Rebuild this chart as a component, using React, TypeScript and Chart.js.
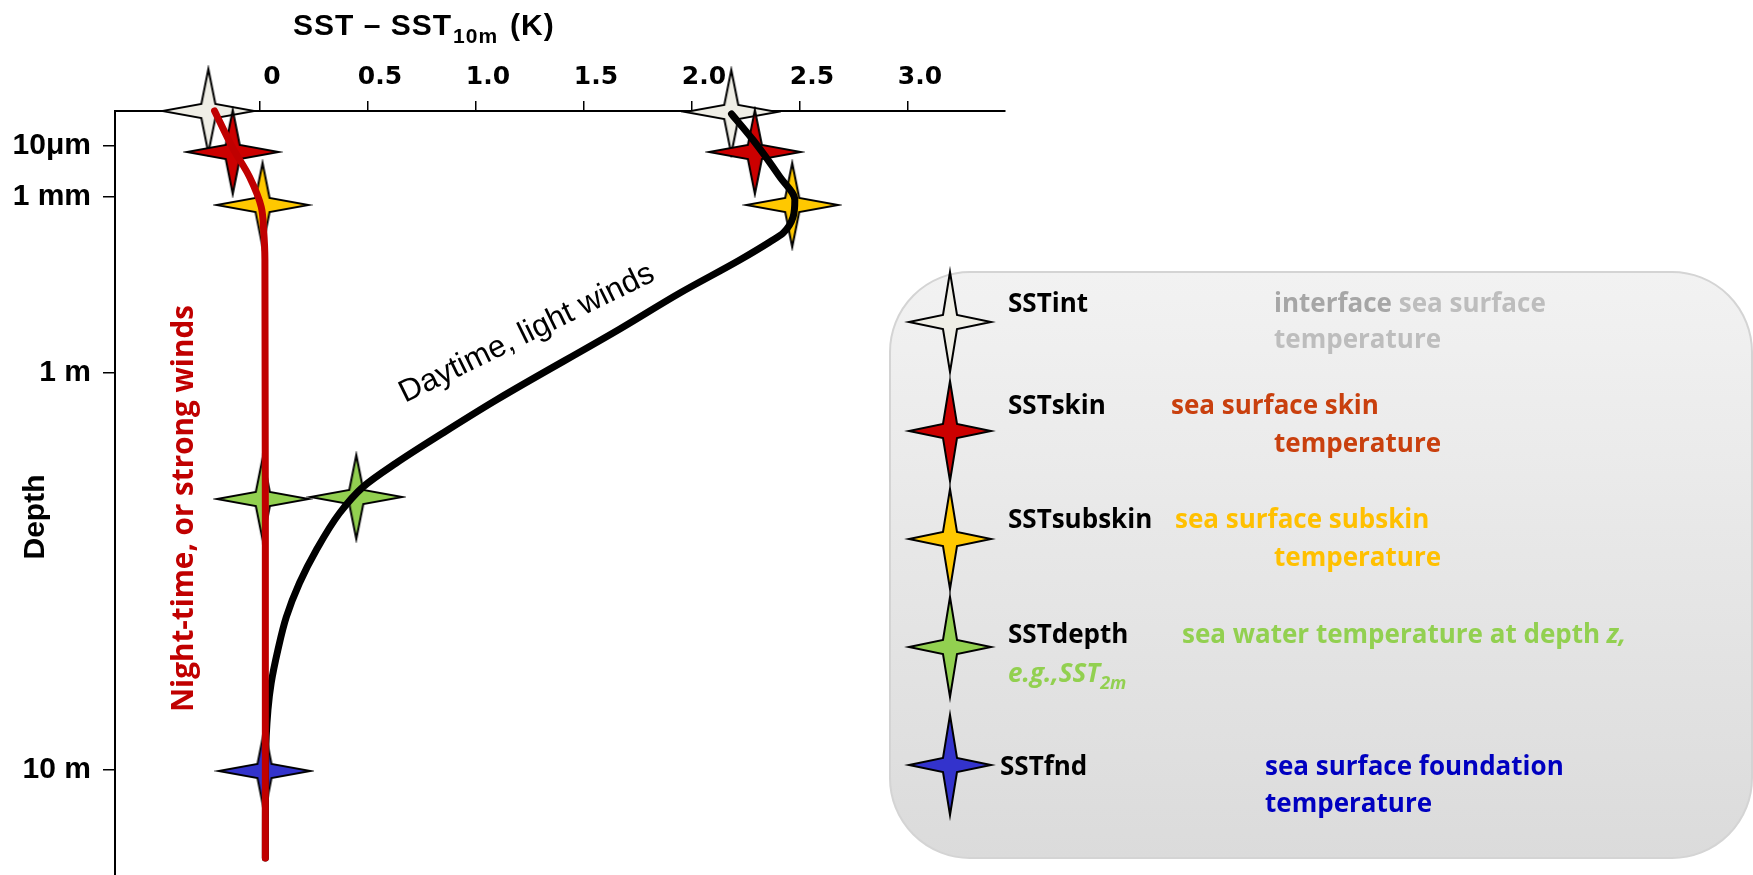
import React, { useEffect, useRef } from "react";
import { Chart, registerables } from "chart.js";

Chart.register(...registerables);

// ---------------- data ----------------
// top axis: SST − SST10m (K)
const X_TICKS = [0, 0.5, 1.0, 1.5, 2.0, 2.5, 3.0];
const X_MIN = -0.671;
const X_MAX = 3.449;

// depth axis: schematic (non-uniform) depth coordinate, 0 = sea surface
const DEPTH_TICK_POS = [35, 86, 262, 659];
const DEPTH_TICK_LABELS = ["10\u03bcm", "1 mm", "1 m", "10 m"];
const DEPTH_MAX = 764;

// "Daytime, light winds" profile
const DAY_DEPTH = [3, 29, 66, 89, 106, 122, 131, 149, 182, 218, 289, 322, 352, 376, 402, 439, 472, 506, 539, 572, 599, 649, 747];
const DAY_DT = [2.183, 2.283, 2.407, 2.476, 2.468, 2.422, 2.36, 2.221, 1.944, 1.666, 1.094, 0.847, 0.631, 0.477, 0.369, 0.261, 0.183, 0.122, 0.083, 0.052, 0.037, 0.026, 0.025];

// "Night-time, or strong winds" profile
const NIGHT_DEPTH = [0, 37, 66, 96, 119, 149, 400, 747];
const NIGHT_DT = [-0.21, -0.126, -0.048, 0.006, 0.017, 0.023, 0.025, 0.025];

// SST definitions (stars)
const STAR_NAMES = ["SSTint", "SSTskin", "SSTsubskin", "SSTdepth", "SSTfnd"];
const STAR_COLORS = ["#efeee6", "#cc0000", "#ffc800", "#92d050", "#3333cc"];
const NIGHT_STAR_DEPTH = [0, 41, 94, 388, 660];
const NIGHT_STAR_DT = [-0.239, -0.126, 0.012, 0.013, 0.021];
const DAY_STAR_DEPTH = [1, 41, 94, 386];
const DAY_STAR_DT = [2.182, 2.291, 2.464, 0.446];

// legend descriptions
const DESC_INT = ["interface ", "sea surface", "temperature"];
const DESC_SKIN = ["sea surface skin", "temperature"];
const DESC_SUBSKIN = ["sea surface subskin", "temperature"];
const DESC_DEPTH = ["sea water temperature at depth ", "z,", "e.g.,SST", "2m"];
const DESC_FND = ["sea surface foundation", "temperature"];

// ---------------- helpers ----------------
function drawStarPath(ctx: CanvasRenderingContext2D, hw: number, hh: number, inner: number) {
  ctx.beginPath();
  ctx.moveTo(0, -hh);
  ctx.lineTo(inner, -inner);
  ctx.lineTo(hw, 0);
  ctx.lineTo(inner, inner);
  ctx.lineTo(0, hh);
  ctx.lineTo(-inner, inner);
  ctx.lineTo(-hw, 0);
  ctx.lineTo(-inner, -inner);
  ctx.closePath();
}

function makeStar(fill: string, hw: number, hh: number, inner = 7) {
  const c = document.createElement("canvas");
  const pad = 4;
  c.width = Math.ceil(2 * hw + 2 * pad);
  c.height = Math.ceil(2 * hh + 2 * pad);
  const ctx = c.getContext("2d")!;
  ctx.translate(c.width / 2, c.height / 2);
  drawStarPath(ctx, hw, hh, inner);
  ctx.fillStyle = fill;
  ctx.fill();
  ctx.lineWidth = 2;
  ctx.strokeStyle = "#000";
  ctx.stroke();
  return c;
}

function fitSize(ctx: CanvasRenderingContext2D, text: string, target: number, style: string, family: string) {
  ctx.font = `${style} 100px ${family}`;
  const w = ctx.measureText(text).width;
  return (100 * target) / w;
}

const ARIAL = "'Liberation Sans', Arial, Helvetica, sans-serif";
const OPEN = "'Open Sans', 'Noto Sans', sans-serif";

type Span = { t: string; c: string; italic?: boolean; size?: number; dy?: number };

function drawSpans(ctx: CanvasRenderingContext2D, spans: Span[], x: number, y: number, baseSize: number) {
  let cx = x;
  for (const s of spans) {
    const size = s.size ?? baseSize;
    ctx.font = `${s.italic ? "italic " : ""}bold ${size}px ${OPEN}`;
    ctx.fillStyle = s.c;
    ctx.fillText(s.t, cx, y + (s.dy ?? 0));
    cx += ctx.measureText(s.t).width;
  }
}

const annotationPlugin = {
  id: "sstAnnotations",
  afterDraw(chart: any) {
    const ctx: CanvasRenderingContext2D = chart.ctx;
    ctx.save();
    ctx.textAlign = "left";
    ctx.textBaseline = "alphabetic";

    // ---- axis title: SST – SST10m (K)
    ctx.fillStyle = "#000";
    (ctx as any).letterSpacing = "1px";
    ctx.font = `bold 30px ${ARIAL}`;
    const main = "SST \u2013 SST";
    ctx.fillText(main, 293, 35);
    let tx = 293 + ctx.measureText(main).width + 1;
    ctx.font = `bold 21px ${ARIAL}`;
    ctx.fillText("10m", tx, 43);
    tx += ctx.measureText("10m").width + 12;
    ctx.font = `bold 30px ${ARIAL}`;
    ctx.fillText("(K)", tx, 35);
    (ctx as any).letterSpacing = "0px";

    // ---- Depth label
    ctx.save();
    ctx.translate(36, 517);
    ctx.rotate(-Math.PI / 2);
    ctx.textAlign = "center";
    ctx.textBaseline = "middle";
    ctx.font = `bold 30px ${ARIAL}`;
    ctx.fillText("Depth", 0, 0);
    ctx.restore();

    // ---- Night-time label
    ctx.save();
    const nightTxt = "Night-time, or strong winds";
    const ns = fitSize(ctx, nightTxt, 407, "bold", OPEN);
    ctx.translate(192.5, 712);
    ctx.rotate(-Math.PI / 2);
    ctx.font = `bold ${ns}px ${OPEN}`;
    ctx.fillStyle = "#c00000";
    ctx.fillText(nightTxt, 0, 0);
    ctx.restore();

    // ---- Daytime label
    ctx.save();
    const dayTxt = "Daytime, light winds";
    const ds = fitSize(ctx, dayTxt, 280, "normal", ARIAL);
    ctx.translate(405, 403);
    ctx.rotate((-26.1 * Math.PI) / 180);
    ctx.font = `normal ${ds}px ${ARIAL}`;
    ctx.fillStyle = "#000";
    ctx.fillText(dayTxt, 0, 0);
    ctx.restore();

    // ---- legend box
    const x0 = 890, y0 = 272, x1 = 1752, y1 = 858, r = 80;
    const g = ctx.createLinearGradient(0, y0, 0, y1);
    g.addColorStop(0, "#f2f2f2");
    g.addColorStop(1, "#dbdbdb");
    ctx.beginPath();
    (ctx as any).roundRect(x0, y0, x1 - x0, y1 - y0, r);
    ctx.fillStyle = g;
    ctx.fill();
    ctx.strokeStyle = "#d4d4d4";
    ctx.lineWidth = 2;
    ctx.stroke();

    const starY = [322, 431, 539, 647, 765];
    const labelX = [1008, 1008, 1008, 1008, 1000];
    const labelY = [312, 414, 528, 643, 775];
    STAR_NAMES.forEach((name, i) => {
      ctx.save();
      ctx.translate(950, starY[i]);
      drawStarPath(ctx, 41, 50, 7);
      ctx.fillStyle = STAR_COLORS[i];
      ctx.fill();
      ctx.lineWidth = 2;
      ctx.strokeStyle = "#000";
      ctx.stroke();
      ctx.restore();
      ctx.font = `bold 26px ${OPEN}`;
      ctx.fillStyle = "#000";
      ctx.fillText(name, labelX[i], labelY[i]);
    });

    const S = 26;
    drawSpans(ctx, [{ t: DESC_INT[0], c: "#a6a6a6" }, { t: DESC_INT[1], c: "#bdbdbd" }], 1274, 312, S);
    drawSpans(ctx, [{ t: DESC_INT[2], c: "#bdbdbd" }], 1274, 348, S);
    const skin = "#c9400e";
    drawSpans(ctx, [{ t: DESC_SKIN[0], c: skin }], 1171, 414, S);
    drawSpans(ctx, [{ t: DESC_SKIN[1], c: skin }], 1274, 452, S);
    const sub = "#ffc000";
    drawSpans(ctx, [{ t: DESC_SUBSKIN[0], c: sub }], 1175, 528, S);
    drawSpans(ctx, [{ t: DESC_SUBSKIN[1], c: sub }], 1274, 566, S);
    const grn = "#92d050";
    drawSpans(ctx, [{ t: DESC_DEPTH[0], c: grn }, { t: DESC_DEPTH[1], c: grn, italic: true }], 1182, 643, S);
    drawSpans(ctx, [{ t: DESC_DEPTH[2], c: grn, italic: true }, { t: DESC_DEPTH[3], c: grn, italic: true, size: 18, dy: 7 }], 1008, 682, S);
    const blu = "#0000c0";
    drawSpans(ctx, [{ t: DESC_FND[0], c: blu }], 1265, 775, S);
    drawSpans(ctx, [{ t: DESC_FND[1], c: blu }], 1265, 812, S);

    ctx.restore();
  },
};

export default function App() {
  const ref = useRef<HTMLCanvasElement>(null);

  useEffect(() => {
    const canvas = ref.current!;
    const chartH = 42, chartW = 46;
    const nightStars = NIGHT_STAR_DEPTH.map((_, i) => makeStar(STAR_COLORS[i], chartW, chartH));
    const dayStars = DAY_STAR_DEPTH.map((_, i) => makeStar(STAR_COLORS[i], chartW, chartH));

    const chart = new Chart(canvas, {
      type: "line",
      data: {
        datasets: [
          {
            label: "Night-time, or strong winds",
            data: NIGHT_DEPTH.map((d, i) => ({ x: NIGHT_DT[i], y: d })),
            borderColor: "#c00000",
            borderWidth: 7,
            pointRadius: 0,
            cubicInterpolationMode: "monotone",
            borderCapStyle: "round",
            fill: false,
            clip: false,
            order: 0,
          },
          {
            label: "Daytime, light winds",
            data: DAY_DEPTH.map((d, i) => ({ x: DAY_DT[i], y: d })),
            borderColor: "#000000",
            borderWidth: 7,
            pointRadius: 0,
            cubicInterpolationMode: "monotone",
            borderCapStyle: "round",
            fill: false,
            clip: false,
            order: 1,
          },
          {
            label: "Night stars",
            data: NIGHT_STAR_DEPTH.map((d, i) => ({ x: NIGHT_STAR_DT[i], y: d })),
            showLine: false,
            pointStyle: nightStars as any,
            pointRadius: 20,
            clip: false,
            order: 2,
          },
          {
            label: "Day stars",
            data: DAY_STAR_DEPTH.map((d, i) => ({ x: DAY_STAR_DT[i], y: d })),
            showLine: false,
            pointStyle: dayStars as any,
            pointRadius: 20,
            clip: false,
            order: 2,
          },
        ],
      } as any,
      options: {
        responsive: false,
        animation: false,
        indexAxis: "y",
        events: [],
        layout: { autoPadding: false, padding: { left: 0, top: 0, right: 748, bottom: 0 } },
        plugins: {
          legend: { display: false },
          tooltip: { enabled: false },
          title: { display: false },
        },
        scales: {
          x: {
            type: "linear",
            position: "top",
            min: X_MIN,
            max: X_MAX,
            afterBuildTicks: (s: any) => {
              s.ticks = X_TICKS.map((v) => ({ value: v }));
            },
            afterFit: (s: any) => {
              s.height = 111;
              s.paddingLeft = 0;
              s.paddingRight = 0;
            },
            grid: { drawOnChartArea: false, drawTicks: true, tickLength: 10, color: "#000", lineWidth: 1.5 },
            border: { display: true, color: "#000", width: 2 },
            ticks: {
              color: "#000",
              font: { family: "'DejaVu Sans', sans-serif", size: 25, weight: "bold" },
              padding: 9,
              labelOffset: 12,
              maxRotation: 0,
              autoSkip: false,
              callback: (v: any) => (Number(v) === 0 ? "0" : Number(v).toFixed(1)),
            },
          },
          y: {
            type: "linear",
            reverse: true,
            min: 0,
            max: DEPTH_MAX,
            afterBuildTicks: (s: any) => {
              s.ticks = DEPTH_TICK_POS.map((v) => ({ value: v }));
            },
            afterFit: (s: any) => {
              s.width = 115;
              s.paddingTop = 0;
              s.paddingBottom = 0;
            },
            grid: { drawOnChartArea: false, drawTicks: true, tickLength: 12, color: "#000", lineWidth: 1.5 },
            border: { display: true, color: "#000", width: 2 },
            ticks: {
              color: "#000",
              font: { family: ARIAL, size: 30, weight: "bold" },
              padding: 12,
              autoSkip: false,
              callback: (_v: any, i: number) => DEPTH_TICK_LABELS[i],
            },
          },
        },
      } as any,
      plugins: [annotationPlugin],
    });

    return () => chart.destroy();
  }, []);

  return (
    <div style={{ position: "absolute", left: 0, top: 0, width: 1753, height: 875, background: "#ffffff" }}>
      <canvas ref={ref} width={1753} height={875} style={{ width: 1753, height: 875, display: "block" }} />
    </div>
  );
}
